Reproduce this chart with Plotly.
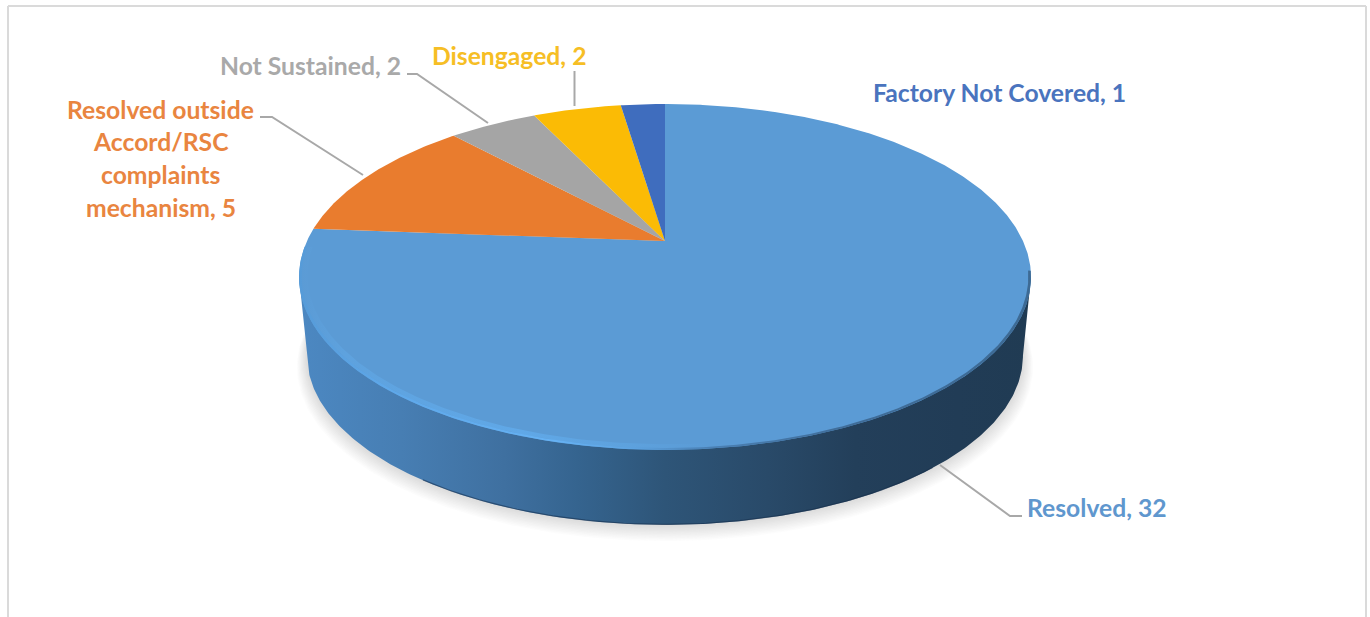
import numpy as np
import plotly.graph_objects as go

# ---- data ----
categories = ["Resolved", "Resolved outside Accord/RSC complaints mechanism",
              "Not Sustained", "Disengaged", "Factory Not Covered"]
values = [32, 5, 2, 2, 1]
slice_colors = ["#5B9BD5", "#E97C2E", "#A5A5A5", "#FBBB05", "#3F6DBE"]

label_lines = [
    ["Resolved, 32"],
    ["Resolved outside", "Accord/RSC", "complaints", "mechanism, 5"],
    ["Not Sustained, 2"],
    ["Disengaged, 2"],
    ["Factory Not Covered, 1"],
]
label_colors = ["#5F97CE", "#E98540", "#A9A9A9", "#F6BE25", "#4A74BE"]

# ---- layout of the drawing (pixel axes) ----
W, H = 1370, 617
CX, CY = 665.0, 241.0      # pie apex on top face
A, B, K = 358.0, 165.5, 0.208   # perspective ellipse params
DEPTH_DY, DEPTH_S = 79.5, 0.978

label_pos = [
    [(1097, 507)],
    [(160, 109), (161, 141), (160, 174), (161, 207)],
    [(310, 65.5)],
    [(509, 55)],
    [(999, 92.5)],
]
leaders = [
    [(940, 465), (1010, 516), (1022, 516)],
    [(260, 117), (272, 117), (363, 175)],
    [(407, 74), (417, 74), (488, 123)],
    [(574.5, 71), (574.5, 106)],
]


def project(theta, r=1.0, s=1.0, dy=0.0, cx=CX):
    """theta: clockwise from 12 o'clock (radians), perspective projection."""
    u = r * np.sin(theta)
    v = r * np.cos(theta)
    w = 1 + K * v
    return cx + s * A * u / w, CY + dy - s * B * v / w


fig = go.Figure()


def poly(x, y, color=None, gradient=None):
    kw = dict(fillgradient=gradient) if gradient else dict(fillcolor=color)
    fig.add_trace(go.Scatter(x=list(x), y=list(y), mode="lines", fill="toself",
                             line=dict(width=0), hoverinfo="skip",
                             showlegend=False, **kw))


full = np.linspace(0, 2 * np.pi, 361)

# soft shadow under the pie
for i in range(12):
    sx, sy = project(full, s=DEPTH_S + 0.0024 * i + 0.001, dy=DEPTH_DY + 0.5 + 0.9 * i, cx=CX)
    poly(sx, sy, color="rgba(150,150,150,0.032)")

# side wall
lower = np.linspace(np.radians(258), np.radians(102), 300)
bx, by = project(lower, s=DEPTH_S, dy=DEPTH_DY)
tl = project(np.radians(258))
tr = project(np.radians(102))
side_x = [tl[0]] + list(bx) + [tr[0]]
side_y = [tl[1]] + list(by) + [tr[1]]
poly(side_x, side_y, gradient=dict(
    type="horizontal",
    colorscale=[[0.0, "#4C88C2"], [0.14, "#477EB3"], [0.28, "#3F70A0"], [0.38, "#35648F"],
                [0.5, "#2E5578"], [0.64, "#294A69"], [0.76, "#233F5A"], [0.9, "#213C56"],
                [1.0, "#203B53"]]))

# darker line along the lowest part of the wall
dark = np.linspace(np.radians(215), np.radians(140), 120)
dx, dy_ = project(dark, s=DEPTH_S, dy=DEPTH_DY - 0.5)
fig.add_trace(go.Scatter(x=list(dx), y=list(dy_), mode="lines",
                         line=dict(color="rgba(22,45,75,0.55)", width=1.2),
                         hoverinfo="skip", showlegend=False))

# top face
angle = 0.0
total = sum(values)
for val, col in zip(values, slice_colors):
    sweep = 2 * np.pi * val / total
    th = np.linspace(angle, angle + sweep, max(3, int(val * 20)))
    x, y = project(th)
    ax, ay = project(0.0, r=0.0)
    poly([ax] + list(x) + [ax], [ay] + list(y) + [ay], color=col)
    angle += sweep

# bevel on the rim of the top face: a soft inner band, then a narrow outer one
rim = np.linspace(np.radians(268), np.radians(100), 300)
ox, oy = project(rim, r=1.0)
mx, my = project(rim, r=0.993)
ix, iy = project(rim, r=0.978)
poly(list(mx) + list(ix[::-1]), list(my) + list(iy[::-1]), gradient=dict(
    type="horizontal",
    colorscale=[[0.0, "#5B9BD5"], [0.06, "#5EA2DE"], [0.3, "#60A8E7"], [0.46, "#5DA1DD"],
                [0.56, "#5B9BD5"], [1.0, "#5B9BD5"]]))
poly(list(ox) + list(mx[::-1]), list(oy) + list(my[::-1]), gradient=dict(
    type="horizontal",
    colorscale=[[0.0, "#569BD8"], [0.12, "#5EA8EA"], [0.35, "#66B2F4"], [0.46, "#5CA2E0"],
                [0.56, "#4A80B4"], [0.75, "#3F6C98"], [1.0, "#3D6A94"]]))

# leader lines
for pts in leaders:
    fig.add_trace(go.Scatter(x=[p[0] for p in pts], y=[p[1] for p in pts], mode="lines",
                             line=dict(color="#A8A8A8", width=2), hoverinfo="skip",
                             showlegend=False))

# labels
for lines, poses, col in zip(label_lines, label_pos, label_colors):
    for text, (x, y) in zip(lines, poses):
        fig.add_annotation(x=x, y=y, text=text, showarrow=False, xanchor="center", yanchor="middle",
                           font=dict(family="Lato", size=24.7, color=col, weight="bold"))

# frame
for x0, y0, x1, y1 in [(8, 6, 8, H), (8, 6, 1366, 6), (1366, 6, 1366, H)]:
    fig.add_shape(type="line", x0=x0, y0=y0, x1=x1, y1=y1,
                  line=dict(color="#DADADA", width=2))

fig.update_layout(
    width=W, height=H, margin=dict(l=0, r=0, t=0, b=0),
    paper_bgcolor="white", plot_bgcolor="white", showlegend=False,
    xaxis=dict(range=[0, W], visible=False, fixedrange=True),
    yaxis=dict(range=[H, 0], visible=False, fixedrange=True),
)

fig.write_html("out.html", config=dict(displayModeBar=False),
               post_script="document.body.style.margin='0';document.documentElement.style.overflow='hidden';")
